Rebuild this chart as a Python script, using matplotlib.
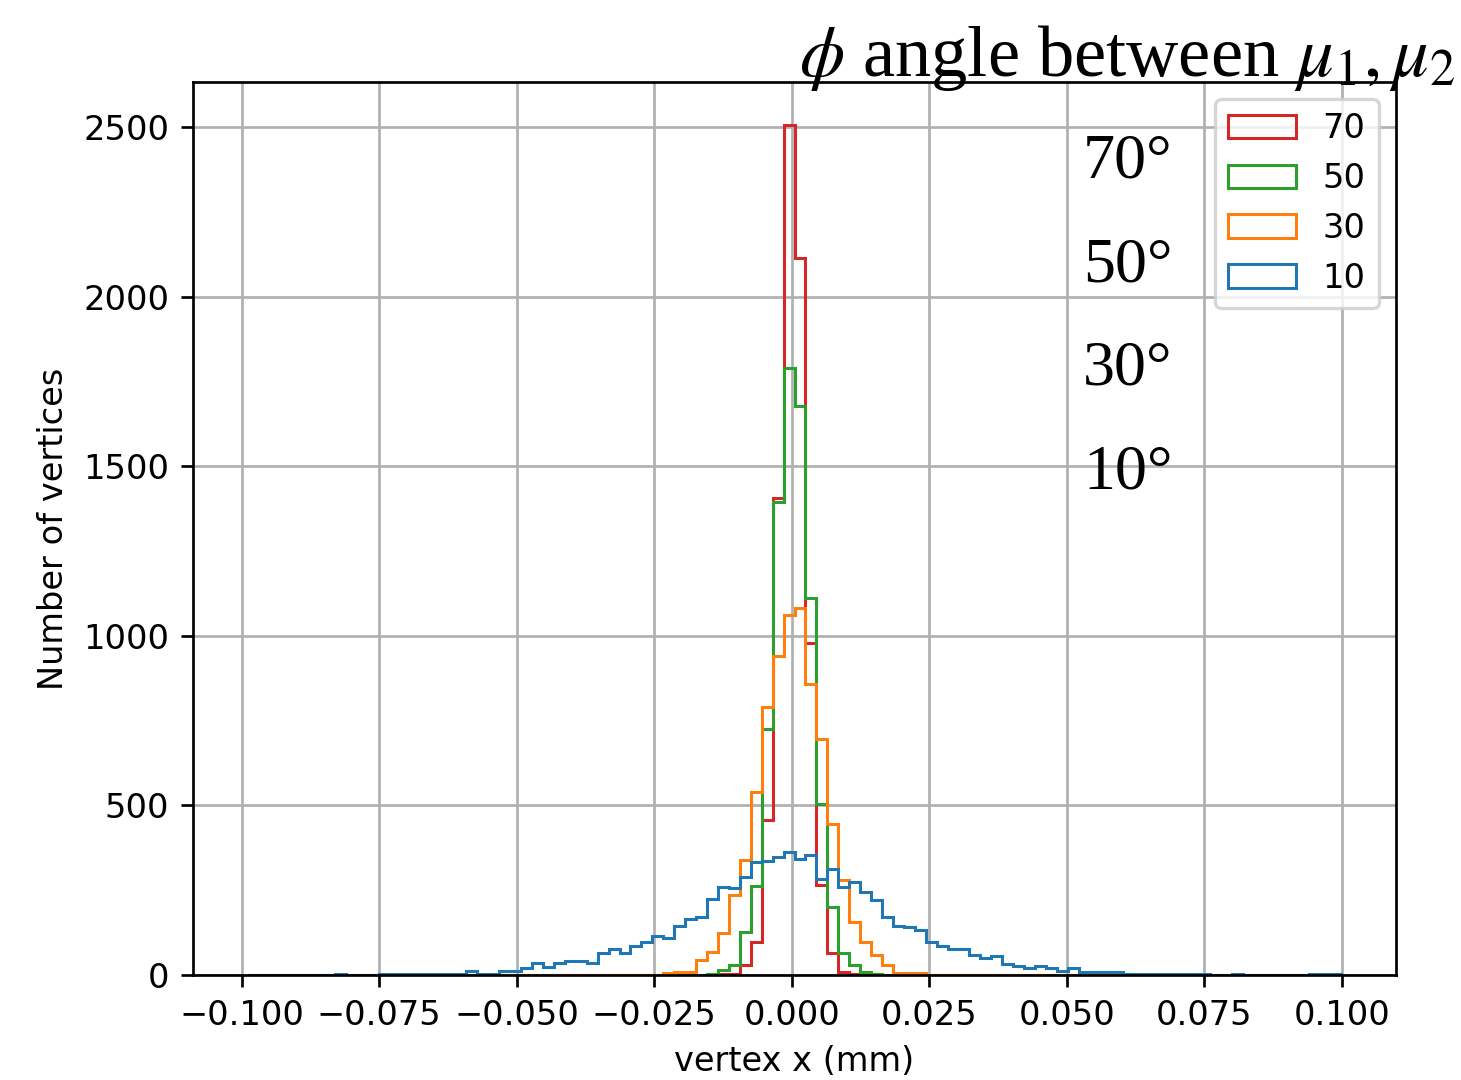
import numpy as np
import matplotlib
matplotlib.use("Agg")
import matplotlib.pyplot as plt

plt.rcParams['mathtext.fontset'] = 'stix'

# histogram bins (common to all four samples)
x_min, x_max, n_bins = -0.0989, 0.0999, 100

# counts per bin
counts_10 = [1, 0, 0, 0, 0, 0, 0, 0, 2, 0,
             0, 0, 2, 2, 2, 2, 2, 2, 2, 2,
             12, 3, 3, 12, 12, 22, 34, 24, 34, 42,
             42, 34, 64, 78, 64, 85, 98, 115, 108, 145,
             165, 172, 225, 260, 255, 289, 333, 336, 348, 363,
             343, 355, 284, 311, 260, 274, 245, 221, 171, 143,
             142, 134, 98, 85, 78, 78, 59, 51, 57, 32,
             26, 20, 26, 20, 13, 20, 10, 10, 10, 10,
             3, 3, 3, 3, 3, 3, 3, 3, 0, 0,
             2, 0, 0, 0, 0, 0, 0, 2, 2, 2]
counts_30 = ([0] * 38 + [7, 8,
             10, 44, 69, 125, 235, 340, 539, 789, 941, 1061,
             1081, 858, 696, 446, 281, 157, 98, 59, 29, 7,
             6, 5] + [0] * 38)
counts_50 = ([0] * 40 + [0, 0, 3, 15, 29, 127, 262, 726, 1395, 1789,
             1676, 1111, 505, 201, 64, 29, 10, 2, 0, 0] + [0] * 40)
counts_70 = ([0] * 40 + [0, 0, 0, 2, 3, 29, 98, 456, 1405, 2507,
             2115, 980, 265, 64, 10, 2, 0, 0, 0, 0] + [0] * 40)

labels = ['70', '50', '30', '10']
angle_texts = ['70°', '50°', '30°', '10°']
series = [counts_70, counts_50, counts_30, counts_10]
colors = ['#d62728', '#2ca02c', '#ff7f0e', '#1f77b4']

edges = np.linspace(x_min, x_max, n_bins + 1)
centers = 0.5 * (edges[:-1] + edges[1:])

dpi = 242.5
fig = plt.figure(figsize=(1461 / dpi, 1080 / dpi), dpi=dpi)
ax = fig.add_axes([193 / 1461, 105 / 1080, 1203 / 1461, 893 / 1080])

for c, lab, col in zip(series, labels, colors):
    ax.hist(centers, bins=edges, weights=c, histtype='step',
            color=col, label=lab, lw=0.9)

ax.grid(True)
ax.set_axisbelow(True)
ax.set_xlabel('vertex x (mm)')
ax.set_ylabel('Number of vertices')
ax.legend(loc='upper right')

fig.text(1456 / 1461, 1 - 76 / 1080, r'$\phi$ angle between $\mu_1, \mu_2$',
         ha='right', va='baseline', family='Liberation Serif', fontsize=21.5)

for i, t in enumerate(angle_texts):
    fig.text(1083 / 1461, 1 - (178 + 103.5 * i) / 1080, t,
             ha='left', va='baseline', family='Liberation Serif', fontsize=19)

fig.savefig('out.png', dpi=dpi)
